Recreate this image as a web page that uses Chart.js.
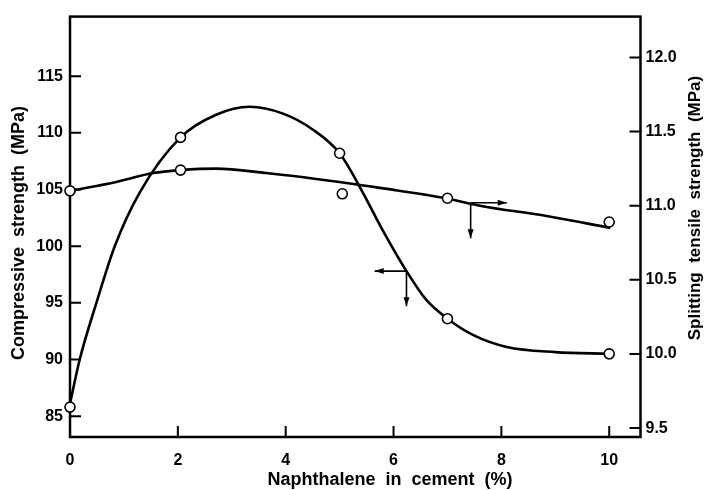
<!DOCTYPE html>
<html><head><meta charset="utf-8">
<script src="https://cdn.jsdelivr.net/npm/chart.js@4/dist/chart.umd.min.js"></script>
<style>html,body{margin:0;padding:0;background:#fff}#wrap{width:711px;height:490px}</style>
</head><body><div id="wrap"><canvas id="c" width="711" height="490"></canvas></div>
<script>
// Tick labels
const xTicks = [0, 2, 4, 6, 8, 10];
const leftTicks = [85, 90, 95, 100, 105, 110, 115];
const rightTicks = [9.5, 10.0, 10.5, 11.0, 11.5, 12.0];

// Axis titles
const xTitle = 'Naphthalene  in  cement  (%)';
const leftTitle = 'Compressive  strength  (MPa)';
const rightTitle = 'Splitting  tensile  strength  (MPa)';

// Measured points (circles)
const compX = [0, 2.05, 5.0, 7.0, 10.0];
const compVals = [85.8, 109.6, 108.2, 93.6, 90.5];
const tensX = [0, 2.05, 5.05, 7.0, 10.0];
const tensVals = [11.1, 11.24, 11.08, 11.05, 10.89];

// Fitted curves
const compCurveX = [0, 0.18, 0.49, 0.83, 1.3, 2.05, 2.71, 3.33, 3.95, 4.5, 5.0, 5.4, 5.8, 6.24, 6.6, 7.0, 7.5, 8.1, 9.0, 10.0];
const compCurve = [86.1, 90.0, 95.0, 100.0, 104.8, 109.6, 111.6, 112.3, 111.7, 110.3, 108.2, 105.0, 101.4, 97.8, 95.3, 93.6, 92.1, 91.1, 90.65, 90.5];
const tensCurveX = [0, 0.86, 1.54, 2.05, 2.71, 3.64, 5.19, 5.75, 6.97, 7.6, 8.84, 10.02];
const tensCurve = [11.1, 11.16, 11.22, 11.24, 11.25, 11.22, 11.15, 11.12, 11.05, 11.0, 10.93, 10.85];

// Axis indicator arrows: [x, y] of the junction, then the x of the horizontal tip and y of the vertical tip
const compArrow = [6.24, 97.8];
const compArrowTips = [5.65, 94.7];
const tensArrow = [7.43, 11.02];
const tensArrowTips = [8.10, 10.78];

const FONT = '"Liberation Sans", Arial, sans-serif';
const pts = (xs, ys) => xs.map((x, i) => ({x, y: ys[i]}));

function arrow(ctx, x0, y0, x1, y1) {
  ctx.beginPath(); ctx.moveTo(x0, y0); ctx.lineTo(x1, y1); ctx.stroke();
  const ang = Math.atan2(y1 - y0, x1 - x0), L = 9, W = 3;
  ctx.beginPath();
  ctx.moveTo(x1, y1);
  ctx.lineTo(x1 - L * Math.cos(ang) + W * Math.sin(ang), y1 - L * Math.sin(ang) - W * Math.cos(ang));
  ctx.lineTo(x1 - L * Math.cos(ang) - W * Math.sin(ang), y1 - L * Math.sin(ang) + W * Math.cos(ang));
  ctx.closePath(); ctx.fill();
}

function rotatedText(ctx, text, cx, cy, font) {
  ctx.save();
  ctx.font = font;
  ctx.textAlign = 'center'; ctx.textBaseline = 'middle';
  ctx.translate(cx, cy);
  ctx.rotate(-Math.PI / 2);
  ctx.fillText(text, 0, 0);
  ctx.restore();
}

const decor = {
  id: 'decor',
  beforeDatasetsDraw(chart) {
    const {ctx, chartArea: a, scales} = chart;
    ctx.save();
    ctx.strokeStyle = '#000';
    ctx.lineWidth = 2.5;
    ctx.strokeRect(a.left, a.top, a.right - a.left, a.bottom - a.top);
    ctx.lineWidth = 2;
    ctx.beginPath();
    xTicks.forEach(v => { const p = scales.x.getPixelForValue(v); ctx.moveTo(p, a.bottom); ctx.lineTo(p, a.bottom - 11); });
    leftTicks.forEach(v => { const p = scales.yL.getPixelForValue(v); ctx.moveTo(a.left, p); ctx.lineTo(a.left + 11, p); });
    rightTicks.forEach(v => { const p = scales.yR.getPixelForValue(v); ctx.moveTo(a.right, p); ctx.lineTo(a.right - 11, p); });
    ctx.stroke();
    ctx.restore();
  },
  afterDatasetsDraw(chart) {
    const {ctx, scales} = chart;
    const X = v => scales.x.getPixelForValue(v);
    const YL = v => scales.yL.getPixelForValue(v);
    const YR = v => scales.yR.getPixelForValue(v);
    ctx.save();
    ctx.strokeStyle = '#000'; ctx.fillStyle = '#000'; ctx.lineWidth = 1.6;
    arrow(ctx, X(compArrow[0]), YL(compArrow[1]), X(compArrowTips[0]), YL(compArrow[1]));
    arrow(ctx, X(compArrow[0]), YL(compArrow[1]), X(compArrow[0]), YL(compArrowTips[1]));
    arrow(ctx, X(tensArrow[0]), YR(tensArrow[1]), X(tensArrowTips[0]), YR(tensArrow[1]));
    arrow(ctx, X(tensArrow[0]), YR(tensArrow[1]), X(tensArrow[0]), YR(tensArrowTips[1]));
    // axis titles
    ctx.font = 'bold 18px ' + FONT;
    ctx.textAlign = 'center'; ctx.textBaseline = 'middle';
    ctx.fillText(xTitle, 390, 480);
    rotatedText(ctx, leftTitle, 19, 233, 'bold 18px ' + FONT);
    rotatedText(ctx, rightTitle, 695, 208, 'bold 17px ' + FONT);
    ctx.restore();
  }
};

const tickFont = {family: FONT, size: 16, weight: 'bold'};

new Chart(document.getElementById('c'), {
  data: {
    datasets: [
      {type: 'scatter', data: pts(compX, compVals), yAxisID: 'yL', pointRadius: 5, pointBackgroundColor: '#fff', pointBorderColor: '#000', pointBorderWidth: 1.6, clip: false, order: 0},
      {type: 'scatter', data: pts(tensX, tensVals), yAxisID: 'yR', pointRadius: 5, pointBackgroundColor: '#fff', pointBorderColor: '#000', pointBorderWidth: 1.6, clip: false, order: 0},
      {type: 'line', data: pts(compCurveX, compCurve), yAxisID: 'yL', borderColor: '#000', borderWidth: 2.6, pointRadius: 0, cubicInterpolationMode: 'monotone', clip: false, order: 1},
      {type: 'line', data: pts(tensCurveX, tensCurve), yAxisID: 'yR', borderColor: '#000', borderWidth: 2.6, pointRadius: 0, cubicInterpolationMode: 'monotone', clip: false, order: 1}
    ]
  },
  options: {
    responsive: false, animation: false, devicePixelRatio: 1,
    layout: {padding: {top: 14, left: 0, right: 0, bottom: 0}},
    plugins: {legend: {display: false}, tooltip: {enabled: false}},
    scales: {
      x: {
        type: 'linear', position: 'bottom', min: 0, max: 10.58,
        grid: {display: false, drawTicks: false}, border: {display: false},
        ticks: {color: '#000', font: tickFont, padding: 14, maxRotation: 0},
        afterBuildTicks: s => { s.ticks = xTicks.map(v => ({value: v})); },
        afterFit: s => { s.height = 53; }
      },
      yL: {
        type: 'linear', position: 'left', min: 83.16, max: 120.26,
        grid: {display: false, drawTicks: false}, border: {display: false},
        ticks: {color: '#000', font: tickFont, padding: 7},
        afterBuildTicks: s => { s.ticks = leftTicks.map(v => ({value: v})); },
        afterFit: s => { s.width = 70; }
      },
      yR: {
        type: 'linear', position: 'right', min: 9.44, max: 12.275,
        grid: {display: false, drawTicks: false}, border: {display: false},
        ticks: {color: '#000', font: tickFont, padding: 5, callback: v => v.toFixed(1)},
        afterBuildTicks: s => { s.ticks = rightTicks.map(v => ({value: v})); },
        afterFit: s => { s.width = 70.5; }
      }
    }
  },
  plugins: [decor]
});
</script>
</body></html>
